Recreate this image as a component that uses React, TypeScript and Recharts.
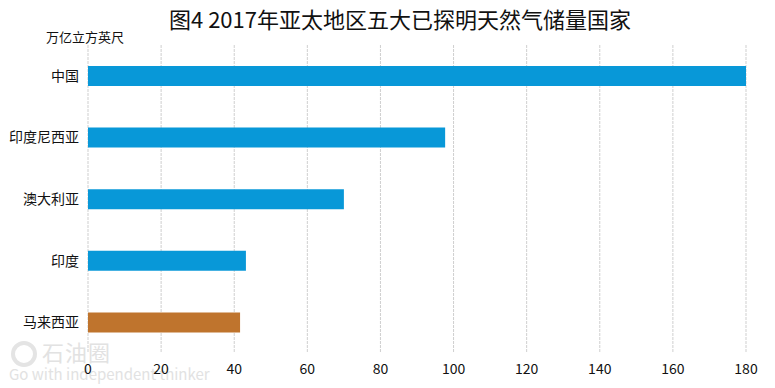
import React from 'react';
import { BarChart, Bar, XAxis, YAxis, CartesianGrid, Cell } from 'recharts';

const countries = ['中国', '印度尼西亚', '澳大利亚', '印度', '马来西亚'];
const reserves = [180, 97.7, 70.0, 43.2, 41.6];
const barColors = ['#0898D8', '#0898D8', '#0898D8', '#0898D8', '#BF742D'];
const xTicks = [0, 20, 40, 60, 80, 100, 120, 140, 160, 180];

const data = countries.map((c, i) => ({ name: c, value: reserves[i] }));

const FONT = '"Noto Sans CJK SC", "Noto Sans", sans-serif';

export default function App() {
  return (
    <div style={{ position: 'absolute', left: 0, top: 0, width: 775, height: 388, background: '#fff', fontFamily: FONT }}>
      <div style={{ position: 'absolute', left: 0, top: 3, width: 800, textAlign: 'center', fontSize: 22, lineHeight: '30px', color: '#111' }}>
        图4 2017年亚太地区五大已探明天然气储量国家
      </div>
      <div style={{ position: 'absolute', left: 46, top: 28, fontSize: 13, lineHeight: '18px', color: '#111' }}>
        万亿立方英尺
      </div>
      <svg width={30} height={30} style={{ position: 'absolute', left: 9, top: 339 }}>
        <circle cx={15} cy={15} r={11} fill="none" stroke="#e4e4e4" strokeWidth={4} />
      </svg>
      <div style={{ position: 'absolute', left: 42, top: 338, fontSize: 22, lineHeight: '26px', color: '#e2e2e2', letterSpacing: 1 }}>
        石油圈
      </div>
      <div style={{ position: 'absolute', left: 9, top: 364, fontSize: 15, lineHeight: '20px', color: '#e2e2e2' }}>
        Go with independent thinker
      </div>
      <BarChart
        width={775}
        height={388}
        data={data}
        layout="vertical"
        margin={{ top: 45, right: 29, bottom: 0, left: 0 }}
        style={{ position: 'absolute', left: 0, top: 0 }}
      >
        <CartesianGrid horizontal={false} vertical={true} stroke="#cfcfcf" strokeDasharray="3 1" />
        <XAxis
          type="number"
          domain={[0, 180]}
          ticks={xTicks}
          axisLine={false}
          tickLine={false}
          height={35}
          tickMargin={5}
          tick={{ fontSize: 14, fill: '#111', fontFamily: FONT }}
        />
        <YAxis
          type="category"
          dataKey="name"
          width={88}
          axisLine={false}
          tickLine={false}
          tickMargin={3}
          tick={{ fontSize: 14, fill: '#111', fontFamily: FONT }}
        />
        <Bar dataKey="value" barSize={20} isAnimationActive={false}>
          {data.map((d, i) => (
            <Cell key={d.name} fill={barColors[i]} />
          ))}
        </Bar>
      </BarChart>
    </div>
  );
}
